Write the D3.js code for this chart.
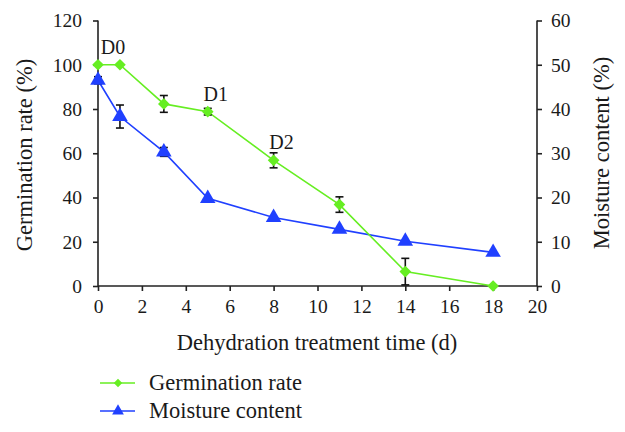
<!DOCTYPE html>
<html><head><meta charset="utf-8">
<script src="https://cdn.jsdelivr.net/npm/d3@7"></script>
<style>body{margin:0;background:#fff}svg{display:block}text{font-family:"Liberation Serif","Times New Roman",serif;fill:#1a1a1a}</style>
</head><body>
<script>
const days = [0, 1, 3, 5, 8, 11, 14, 18];
const germination = [100, 100, 82.3, 78.8, 56.8, 36.8, 6.5, 0];
const germinationErr = [0, 0, 3.8, 1.5, 3.4, 3.5, 6.0, 0];
const moisture = [46.5, 38.3, 30.3, 19.8, 15.5, 12.8, 10.1, 7.6];
const moistureErr = [0.8, 2.6, 1.0, 0, 0, 0, 0, 0];
const xTicks = [0, 2, 4, 6, 8, 10, 12, 14, 16, 18, 20];
const leftTicks = [0, 20, 40, 60, 80, 100, 120];
const rightTicks = [0, 10, 20, 30, 40, 50, 60];
const stageLabels = [{t:"D0", d:0, v:100}, {t:"D1", d:5, v:78.8}, {t:"D2", d:8, v:56.8}];
const legendItems = ["Germination rate", "Moisture content"];

const W = 625, H = 432;
const green = "#66ee22", blue = "#2040ff";
const svg = d3.select("body").append("svg").attr("width", W).attr("height", H);
const x = d3.scaleLinear().domain([0, 20]).range([98, 537]);
const yL = d3.scaleLinear().domain([0, 120]).range([286, 20.5]);
const yR = d3.scaleLinear().domain([0, 60]).range([286, 20.5]);

const axStyle = g => {
  g.selectAll("path,line").attr("stroke", "#222").attr("stroke-width", 1.6);
  g.select(".domain").remove();
  g.selectAll("text").attr("font-size", 19.5).attr("fill", "#1a1a1a").attr("font-family", '"Liberation Serif",serif');
};
svg.append("g").attr("transform", "translate(0,286)")
  .call(d3.axisBottom(x).tickValues(xTicks).tickSize(5).tickPadding(8)).call(axStyle);
svg.append("line").attr("x1", 98).attr("x2", 537).attr("y1", 286).attr("y2", 286).attr("stroke", "#222").attr("stroke-width", 1.6);
svg.append("g").attr("transform", "translate(98,0)")
  .call(d3.axisLeft(yL).tickValues(leftTicks).tickSize(5).tickPadding(11)).call(axStyle);
svg.append("line").attr("x1", 98).attr("x2", 98).attr("y1", 20.5).attr("y2", 286).attr("stroke", "#222").attr("stroke-width", 1.6);
svg.append("g").attr("transform", "translate(537,0)")
  .call(d3.axisRight(yR).tickValues(rightTicks).tickSize(5).tickPadding(9)).call(axStyle);
svg.append("line").attr("x1", 537).attr("x2", 537).attr("y1", 20.5).attr("y2", 286).attr("stroke", "#222").attr("stroke-width", 1.6);

svg.append("text").attr("x", 317).attr("y", 350).attr("text-anchor", "middle").attr("font-size", 22.5).text("Dehydration treatment time (d)");
svg.append("text").attr("transform", "translate(32,155) rotate(-90)").attr("text-anchor", "middle").attr("font-size", 22.5).text("Germination rate (%)");
svg.append("text").attr("transform", "translate(609,153) rotate(-90)").attr("text-anchor", "middle").attr("font-size", 22.5).text("Moisture content (%)");

function errBars(vals, errs, y) {
  const g = svg.append("g");
  days.forEach((d, i) => {
    if (!errs[i]) return;
    const cx = x(d), y1 = y(vals[i] + errs[i]), y2 = y(Math.max(0, vals[i] - errs[i]));
    g.append("line").attr("x1", cx).attr("x2", cx).attr("y1", y1).attr("y2", y2).attr("stroke", "#111").attr("stroke-width", 1.6);
    [y1, y2].forEach(yy => g.append("line").attr("x1", cx - 4).attr("x2", cx + 4).attr("y1", yy).attr("y2", yy).attr("stroke", "#111").attr("stroke-width", 1.6));
  });
}

const lineM = d3.line().x((d, i) => x(days[i])).y(d => yR(d));
svg.append("path").datum(moisture).attr("d", lineM).attr("fill", "none").attr("stroke", blue).attr("stroke-width", 1.6);
errBars(moisture, moistureErr, yR);
const tri = d3.symbol().type(d3.symbolTriangle).size(105);
svg.selectAll(".tri").data(moisture).join("path").attr("d", tri)
  .attr("transform", (d, i) => `translate(${x(days[i])},${yR(d)})`).attr("fill", blue);

const lineG = d3.line().x((d, i) => x(days[i])).y(d => yL(d));
svg.append("path").datum(germination).attr("d", lineG).attr("fill", "none").attr("stroke", green).attr("stroke-width", 1.6);
errBars(germination, germinationErr, yL);
const dia = d3.symbol().type(d3.symbolSquare).size(68);
svg.selectAll(".dia").data(germination).join("path").attr("d", dia)
  .attr("transform", (d, i) => `translate(${x(days[i])},${yL(d)}) rotate(45)`).attr("fill", green);

svg.selectAll(".stage").data(stageLabels).join("text").attr("font-size", 20)
  .attr("x", d => x(d.d) + (d.d === 0 ? 15 : 8)).attr("y", d => yL(d.v) - 11).attr("text-anchor", "middle").text(d => d.t);

const colors = [green, blue];
const syms = [d3.symbol().type(d3.symbolSquare).size(36), d3.symbol().type(d3.symbolTriangle).size(60)];
legendItems.forEach((t, i) => {
  const yy = 383 + i * 28;
  svg.append("line").attr("x1", 100).attr("x2", 135).attr("y1", yy).attr("y2", yy).attr("stroke", colors[i]).attr("stroke-width", 1.6);
  svg.append("path").attr("d", syms[i]).attr("transform", `translate(118,${yy})` + (i === 0 ? " rotate(45)" : "")).attr("fill", colors[i]);
  svg.append("text").attr("x", 149).attr("y", yy + 7).attr("font-size", 22.5).text(t);
});
</script>
</body></html>
